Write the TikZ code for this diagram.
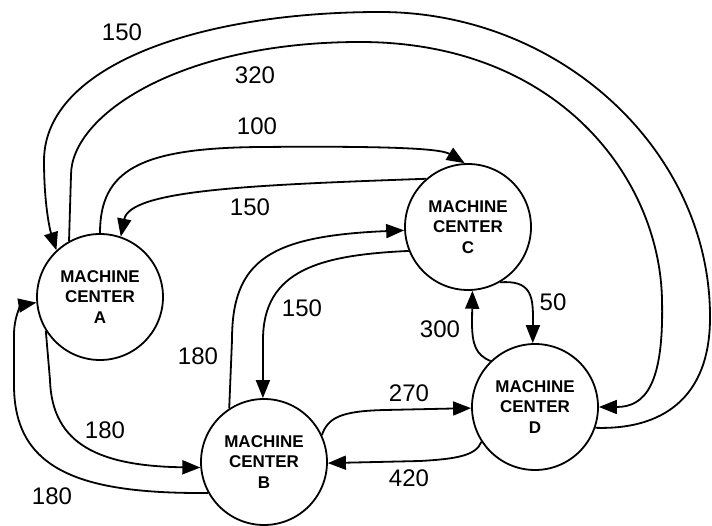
\documentclass[tikz,border=0pt]{standalone}
\usepackage{fontspec}
\setmainfont{Liberation Sans}
\usetikzlibrary{arrows.meta}
\begin{document}
\begin{tikzpicture}[x=1pt,y=-1pt,
  mc/.style={circle, draw, line width=1.8pt, minimum size=126pt, inner sep=0pt, align=center, font=\fontsize{17}{20.5}\selectfont\bfseries},
  conn/.style={line width=1.8pt, -{Triangle[length=18pt,width=14pt]}},
  lbl/.style={font=\fontsize{24}{28}\selectfont, inner sep=0pt}]
\useasboundingbox (0,0) rectangle (712,526);
\node[mc] (A) at (100,297) {MACHINE\\CENTER\\A};
\node[mc] (C) at (468,227) {MACHINE\\CENTER\\C};
\node[mc] (B) at (264,462) {MACHINE\\CENTER\\B};
\node[mc] (D) at (535,407) {MACHINE\\CENTER\\D};
% D -> A (150)
\draw[conn] (D.341) .. controls (660,430) and (711,400) .. (710,315) .. controls (709,150) and (560,12) .. (380,12) .. controls (200,12) and (45,65) .. (44,160) .. controls (44,205) and (50,230) .. (A.133);
% A -> D (320)
\draw[conn] (A.119) -- (71,175) .. controls (71,115) and (180,42) .. (360,42) .. controls (560,42) and (660,180) .. (662,300) .. controls (664,385) and (645,407) .. (D.0);
% A -> C (100)
\draw[conn] (A.90) .. controls (100,170) and (140,148) .. (260,147) .. controls (380,146) and (440,148) .. (C.93);
% C -> A (150)
\draw[conn] (C.131) .. controls (250,185) and (130,190) .. (A.71);
% B -> C (180)
\draw[conn] (B.123) -- (232,340) .. controls (232,260) and (270,236) .. (C.183);
% C -> B (150)
\draw[conn] (C.202) .. controls (320,255) and (263,270) .. (263,340) -- (B.91);
% C -> D (50)
\draw[conn] (C.300) .. controls (530,280) and (533,295) .. (533,318) -- (D.92);
% D -> C (300)
\draw[conn] (D.134) .. controls (476,355) and (472,345) .. (472,322) -- (C.274);
% A -> B (180)
\draw[conn] (A.212) -- (50,380) .. controls (52,445) and (100,466) .. (B.185);
% B -> A (180)
\draw[conn] (B.209) .. controls (80,494) and (14,470) .. (14,385) -- (14,335) .. controls (14,315) and (22,305) .. (A.185);
% B -> D (270)
\draw[conn] (B.25) .. controls (328,418) and (340,411) .. (385,410) -- (D.181);
% D -> B (420)
\draw[conn] (D.213) .. controls (476,456) and (455,459) .. (420,461) -- (B.-1);
% labels
\node[lbl] (l1) at (122,32) {150};
\node[lbl] (l2) at (255,75) {320};
\node[lbl] (l3) at (257,126) {100};
\node[lbl] (l4) at (250,207) {150};
\node[lbl] (l5) at (198,356) {180};
\node[lbl] (l6) at (302,308) {150};
\node[lbl] (l7) at (553,302) {50};
\node[lbl] (l8) at (440,329) {300};
\node[lbl] (l9) at (105,430) {180};
\node[lbl] (l10) at (52,496) {180};
\node[lbl] (l11) at (409,393) {270};
\node[lbl] (l12) at (409,478) {420};
\end{tikzpicture}
\end{document}
